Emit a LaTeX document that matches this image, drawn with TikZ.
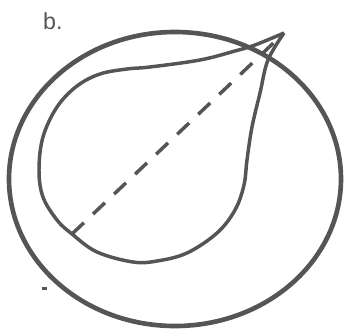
\documentclass[tikz,border=0pt]{standalone}
\usepackage{fontspec}
\setmainfont{Liberation Sans}
\usepackage{xcolor}
\definecolor{InkGray}{HTML}{555555}

\begin{document}
\begin{tikzpicture}[
	scale=1,
	outer ring/.style={
		draw=InkGray,
		line width=4.4pt
	},
	% Teardrop outline style
	drop line/.style={
		draw=InkGray,
		line width=3.3pt,
		line join=round
	},
	axis line/.style={
		draw=InkGray,
		line width=3.3pt,
		dash pattern=on 15.5pt off 12pt
	},
	label text/.style={
		text=InkGray,
		font=\fontsize{22pt}{24pt}\selectfont,
		inner sep=0pt,
		anchor=base west
	}
	]
	\useasboundingbox (0,0) rectangle (11.5,11);
	
	% ================= POINTS =================
	\coordinate (tip) at (9.467, 9.9);
	\coordinate (base) at (2.4, 3.2);
	\coordinate (centre) at (5.833, 5.033);
	
	% ================= SHAPES =================
	\draw[outer ring] (centre) ellipse [x radius=5.533, y radius=4.9];
	
	\draw[drop line] plot[smooth, tension=0.6] coordinates {
		(9.467, 9.9) (8.5, 9.5) (7.833, 9.3) (6.667, 9.0) (5.0, 8.767)
		(4.233, 8.7) (3.333, 8.533) (2.567, 8.133) (1.9, 7.433)
		(1.433, 6.433) (1.3, 5.333) (1.433, 4.433) (1.9, 3.667)
		(2.4, 3.2) (3.233, 2.6) (4.433, 2.267) (5.233, 2.3)
		(6.233, 2.567) (7.233, 3.233) (7.833, 4.0) (8.133, 4.833)
		(8.233, 5.667) (8.4, 6.767) (8.667, 7.9) (8.933, 9.0)
		(9.467, 9.9)};
	
	\draw[axis line] (base) -- (tip);
	
	% ================= LABELS =================
	\node[label text] (fig) at (1.433, 10.0) {b.};
	\fill[InkGray] (1.4, 1.42) rectangle (1.55, 1.34);
	
\end{tikzpicture}
\end{document}
